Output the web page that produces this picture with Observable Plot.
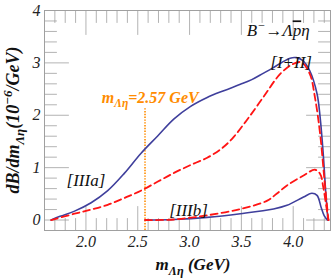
<!DOCTYPE html>
<html><head><meta charset="utf-8">
<script src="https://cdn.jsdelivr.net/npm/d3@7"></script>
<script src="https://cdn.jsdelivr.net/npm/@observablehq/plot@0.6"></script>
<style>html,body{margin:0;padding:0;background:#fff} svg{display:block}</style>
</head><body><div id="chart"></div>
<script>
// ---- data ----
const upperBlueX = [1.664, 1.75, 1.89, 2.05, 2.21, 2.37, 2.53, 2.69, 2.85, 3.01, 3.17, 3.33, 3.49, 3.60, 3.71, 3.80, 3.875, 3.97, 4.03, 4.09, 4.16, 4.23, 4.26, 4.29, 4.315, 4.335];
const upperBlueY = [0, 0.07, 0.17, 0.33, 0.56, 0.89, 1.27, 1.60, 1.93, 2.17, 2.34, 2.47, 2.59, 2.68, 2.80, 2.90, 2.99, 3.09, 3.10, 3.05, 2.85, 2.41, 1.96, 1.26, 0.5, 0];
const upperRedX = [1.664, 1.89, 2.05, 2.21, 2.37, 2.53, 2.69, 2.85, 3.01, 3.17, 3.30, 3.41, 3.55, 3.71, 3.875, 4.0, 4.08, 4.16, 4.21, 4.26, 4.30, 4.34];
const upperRedY = [0, 0.12, 0.2, 0.29, 0.42, 0.56, 0.73, 0.90, 1.05, 1.19, 1.35, 1.55, 1.90, 2.34, 2.79, 2.98, 3.01, 2.79, 2.34, 1.64, 0.8, 0];
const lowerBlueX = [2.57, 2.85, 3.17, 3.49, 3.81, 3.94, 4.10, 4.18, 4.23, 4.27, 4.30, 4.33];
const lowerBlueY = [0, 0.01, 0.05, 0.12, 0.21, 0.28, 0.44, 0.51, 0.47, 0.24, 0.08, 0];
const lowerRedX = [2.57, 2.85, 3.17, 3.49, 3.75, 3.84, 3.94, 4.10, 4.21, 4.26, 4.29, 4.32, 4.34];
const lowerRedY = [0, 0.01, 0.09, 0.21, 0.37, 0.5, 0.66, 0.85, 0.96, 0.88, 0.63, 0.25, 0];
const thresholdMass = [2.57];
const thresholdTop = 2.13;
const xTickValues = [2.0, 2.5, 3.0, 3.5, 4.0];
const yTickValues = [0, 1, 2, 3, 4];
const regionLabels = ["[IIIa]", "[IIIb]", "[I+II]"];
const regionLabelX = [2.0, 2.99, 3.98];
const regionLabelY = [0.76, 0.19, 3.0];
const xDomain = [1.6, 4.36];
const yDomain = [-0.2, 4];

// ---- styling ----
const serif = "'Liberation Serif', 'Times New Roman', serif";
const grey = "#a0a0a0";
const blue = "#3f3f9c";
const red = "#ff1414";
const orange = "#ff8c00";

const toRows = (X, Y) => X.map((x, i) => ({x, y: Y[i]}));
const upperBlue = toRows(upperBlueX, upperBlueY);
const upperRed = toRows(upperRedX, upperRedY);
const lowerBlue = toRows(lowerBlueX, lowerBlueY);
const lowerRed = toRows(lowerRedX, lowerRedY);
const regions = regionLabels.map((t, i) => ({t, x: regionLabelX[i], y: regionLabelY[i]}));

const xMinor = d3.range(16, 44).map(d => d / 10);
const yMinor = d3.range(0, 21).map(d => d / 5);
const xMajorSet = new Set(xTickValues.map(d => d.toFixed(1)));
const yMajorSet = new Set(yTickValues.map(d => d.toFixed(1)));
const tickShape = {draw(ctx, l) { ctx.moveTo(0, 0); ctx.lineTo(0, -l); }};
const xLen = d => xMajorSet.has(d.toFixed(1)) ? 5 : 2.5;
const yLen = d => yMajorSet.has(d.toFixed(1)) ? 5 : 2.5;
const tickOpts = {shape: tickShape, anchor: "start", stroke: grey, strokeWidth: 0.8};
const lineCurve = "catmull-rom";

const plot = Plot.plot({
  width: 332, height: 280,
  marginLeft: 44, marginRight: 2, marginTop: 10, marginBottom: 50,
  style: {fontFamily: serif, background: "#fff"},
  x: {domain: xDomain},
  y: {domain: yDomain},
  marks: [
    Plot.frame({stroke: grey, strokeWidth: 1}),
    Plot.vector(xMinor, {...tickOpts, x: d => d, frameAnchor: "bottom", rotate: 0, length: xLen}),
    Plot.vector(xMinor, {...tickOpts, x: d => d, frameAnchor: "top", rotate: 180, length: xLen}),
    Plot.vector(yMinor, {...tickOpts, y: d => d, frameAnchor: "left", rotate: 90, length: yLen}),
    Plot.vector(yMinor, {...tickOpts, y: d => d, frameAnchor: "right", rotate: 270, length: yLen}),
    Plot.axisX(xTickValues, {anchor: "bottom", tickSize: 0, tickPadding: 5, tickFormat: d3.format(".1f"), fontSize: 16, fontStyle: "italic", fontFamily: serif, fill: "#222", label: null}),
    Plot.axisY(yTickValues, {anchor: "left", tickSize: 0, tickPadding: 4, tickFormat: d => String(d), fontSize: 16, fontStyle: "italic", fontFamily: serif, fill: "#222", label: null}),
    Plot.ruleX(thresholdMass, {y1: yDomain[0], y2: thresholdTop, stroke: orange, strokeWidth: 1.6, strokeDasharray: "1.4,1.4"}),
    Plot.line(upperBlue, {x: "x", y: "y", stroke: blue, strokeWidth: 1.6, curve: lineCurve}),
    Plot.line(lowerBlue, {x: "x", y: "y", stroke: blue, strokeWidth: 1.6, curve: lineCurve}),
    Plot.line(upperRed, {x: "x", y: "y", stroke: red, strokeWidth: 1.8, strokeDasharray: "7,4", curve: lineCurve}),
    Plot.line(lowerRed, {x: "x", y: "y", stroke: red, strokeWidth: 1.8, strokeDasharray: "7,4", curve: lineCurve}),
    Plot.text(regions, {x: "x", y: "y", text: "t", fontSize: 17, fontStyle: "italic", fontFamily: serif, fill: "#111"})
  ]
});

const svg = d3.select(plot);
const xs = plot.scale("x"), ys = plot.scale("y");
const sx = v => xs.apply(v), sy = v => ys.apply(v);

function rich(px, py, parts, o) {
  const size = o.size;
  const t = svg.append("text")
    .attr("transform", `translate(${px},${py}) rotate(${o.rotate || 0})`)
    .attr("y", size * 0.35)
    .attr("text-anchor", o.anchor || "middle")
    .attr("font-family", serif)
    .attr("font-size", size)
    .attr("font-weight", o.weight || "normal")
    .attr("font-style", "italic")
    .attr("fill", o.fill || "#111");
  let shift = 0;
  for (const [s, k] of parts) {
    const target = k === "sub" ? size * 0.28 : k === "sup" ? -size * 0.4 : 0;
    const ts = t.append("tspan").attr("dy", target - shift).text(s);
    shift = target;
    if (k === "sub" || k === "sup") ts.attr("font-size", size * 0.72);
    if (k === "over") ts.attr("text-decoration", "overline");
  }
}

const yRange = ys.range;
// y axis title
rich(13, (yRange[0] + yRange[1]) / 2, [["dB/dm", ""], ["Λη", "sub"], ["(10", ""], ["−6", "sup"], ["/GeV)", ""]], {size: 18, weight: "bold", rotate: -90});
// x axis title
rich(193, 264, [["m", ""], ["Λη", "sub"], [" (GeV)", ""]], {size: 17, weight: "bold"});
// threshold label
rich(sx(2.625), sy(2.34), [["m", ""], ["Λη", "sub"], ["=2.57 GeV", ""]], {size: 16, weight: "bold", fill: orange});
// decay title
rich(sx(3.86), sy(3.61), [["B", ""], ["−", "sup"], ["→Λ", ""], ["p", "over"], ["η", ""]], {size: 17});

document.getElementById("chart").append(plot);
</script>
</body></html>
